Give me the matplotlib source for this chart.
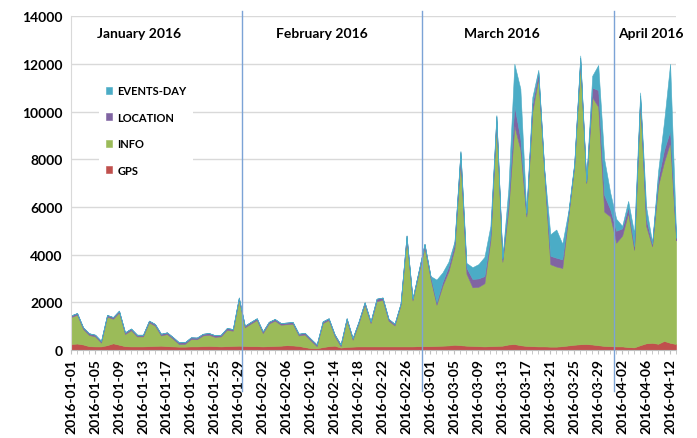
import matplotlib
matplotlib.use('Agg')
import pandas as pd
import matplotlib.pyplot as plt
from matplotlib.ticker import MultipleLocator

# daily categories, 8 and 9 April are not in the sheet
days = pd.date_range('2016-01-01', '2016-04-13')
days = days.drop(pd.to_datetime(['2016-04-08', '2016-04-09']))
day_labels = days.strftime('%Y-%m-%d').tolist()

gps = [250, 270, 230, 160, 150, 150, 200, 280, 220, 160,
       150, 150, 150, 160, 170, 180, 160, 150, 140, 140,
       150, 150, 160, 170, 160, 150, 160, 170, 180, 170,
       160, 160, 150, 160, 170, 180, 200, 190, 170, 120,
       80, 70, 120, 160, 180, 100, 130, 140, 150, 150,
       150, 150, 150, 150, 150, 150, 150, 150, 160, 160,
       160, 170, 180, 190, 220, 200, 180, 170, 160, 150,
       160, 170, 180, 230, 250, 200, 170, 160, 150, 150,
       140, 140, 160, 190, 220, 240, 250, 230, 200, 170,
       160, 150, 150, 120, 110, 200, 280, 300, 260, 380,
       300, 250]

info = [1130, 1210, 650, 470, 420, 160, 1200, 1030, 1360, 510,
        680, 420, 420, 1000, 850, 430, 510, 320, 110, 120,
        310, 300, 450, 470, 390, 420, 690, 640, 1950, 780,
        950, 1100, 560, 950, 1060, 880, 880, 910, 440, 530,
        320, 90, 1010, 1100, 400, 60, 1130, 290, 980, 1760,
        980, 1900, 1950, 1080, 880, 1730, 4530, 1930, 3040, 4140,
        2840, 1730, 2520, 3110, 4030, 7800, 3020, 2460, 2490, 2650,
        4440, 9430, 3520, 5670, 9150, 8200, 5430, 9840, 11250, 7250,
        3460, 3360, 3280, 5410, 7480, 11860, 6750, 10370, 10000, 5630,
        5440, 4350, 4650, 5630, 4090, 10300, 4920, 4050, 6640, 7520,
        8400, 4350]

location = [70, 70, 70, 70, 70, 70, 70, 70, 70, 70,
            70, 70, 70, 70, 70, 70, 70, 70, 70, 70,
            70, 70, 70, 70, 70, 70, 70, 70, 70, 70,
            70, 70, 70, 70, 70, 70, 70, 70, 70, 70,
            70, 70, 70, 70, 70, 70, 70, 70, 70, 90,
            70, 100, 100, 70, 70, 70, 120, 70, 100, 150,
            100, 100, 150, 200, 200, 300, 250, 350, 350, 300,
            200, 200, 100, 300, 860, 460, 100, 300, 250, 100,
            350, 370, 360, 100, 100, 150, 50, 400, 700, 700,
            300, 500, 300, 250, 150, 150, 300, 100, 300, 500,
            500, 100]

events = [0] * 61 + [950, 400, 200, 100, 50, 200, 490, 600, 800,
                     400, 50, 50, 560, 1740, 2100, 80, 300, 100, 50,
                     900, 1180, 650, 100, 50, 100, 50, 500, 1050, 1500,
                     700, 500, 100, 250, 550, 150, 500, 50, 300, 1200,
                     2800, 100]

series_names = ['GPS', 'INFO', 'LOCATION', 'EVENTS-DAY']
series_colors = ['#C0504D', '#9BBB59', '#8064A2', '#4BACC6']
months = ['January 2016', 'February 2016', 'March 2016', 'April 2016']

plt.rcParams['font.family'] = ['Lato', 'DejaVu Sans']
plt.rcParams['font.weight'] = 'bold'

fig = plt.figure(figsize=(6.97, 4.39), dpi=100)
ax = fig.add_axes([0.102, 0.2005, 0.868, 0.7605])

x = list(range(len(day_labels)))
polys = ax.stackplot(x, gps, info, location, events, colors=series_colors,
                     labels=series_names, linewidth=0.4)
for p, c in zip(polys, series_colors):
    p.set_edgecolor(c)

ax.set_xlim(0, len(day_labels) - 1)
ax.set_ylim(0, 14000)
ax.set_yticks(range(0, 14001, 2000))
ax.set_xticks(x[::4])
ax.set_xticklabels(day_labels[::4], rotation=90, fontsize=10, fontweight='bold')
ax.xaxis.set_minor_locator(MultipleLocator(1))
ax.tick_params(axis='y', length=0, labelsize=10, pad=6)
ax.tick_params(axis='x', which='both', length=3, color='#BFBFBF', pad=3)
ax.grid(axis='y', color='#D9D9D9', lw=1)
ax.set_axisbelow(True)
for s in ['top', 'right']:
    ax.spines[s].set_visible(False)
ax.spines['left'].set_color('#D9D9D9')
ax.spines['bottom'].set_color('#BFBFBF')

# month separators, drawn past the axes like in the sheet
for xb in [28.6, 58.5, 90.6]:
    ax.plot([xb, xb], [-0.123, 1.015], color='#7BA3D6', lw=1,
            transform=ax.get_xaxis_transform(), clip_on=False, zorder=5)

for name, xm in zip(months, [11.3, 41.8, 71.9, 96.8]):
    ax.text(xm, 13280, name, ha='center', va='center', fontsize=10, fontweight='bold')

h, l = ax.get_legend_handles_labels()
leg = ax.legend(h[::-1], l[::-1], loc='upper left', bbox_to_anchor=(0.037, 0.83),
                frameon=True, facecolor='white', edgecolor='none', framealpha=1,
                fancybox=False, handlelength=0.6, handleheight=0.6,
                handletextpad=0.45, labelspacing=1.4, borderpad=0.6,
                prop={'size': 8, 'weight': 'bold'})

plt.savefig('out.png', dpi=100)
